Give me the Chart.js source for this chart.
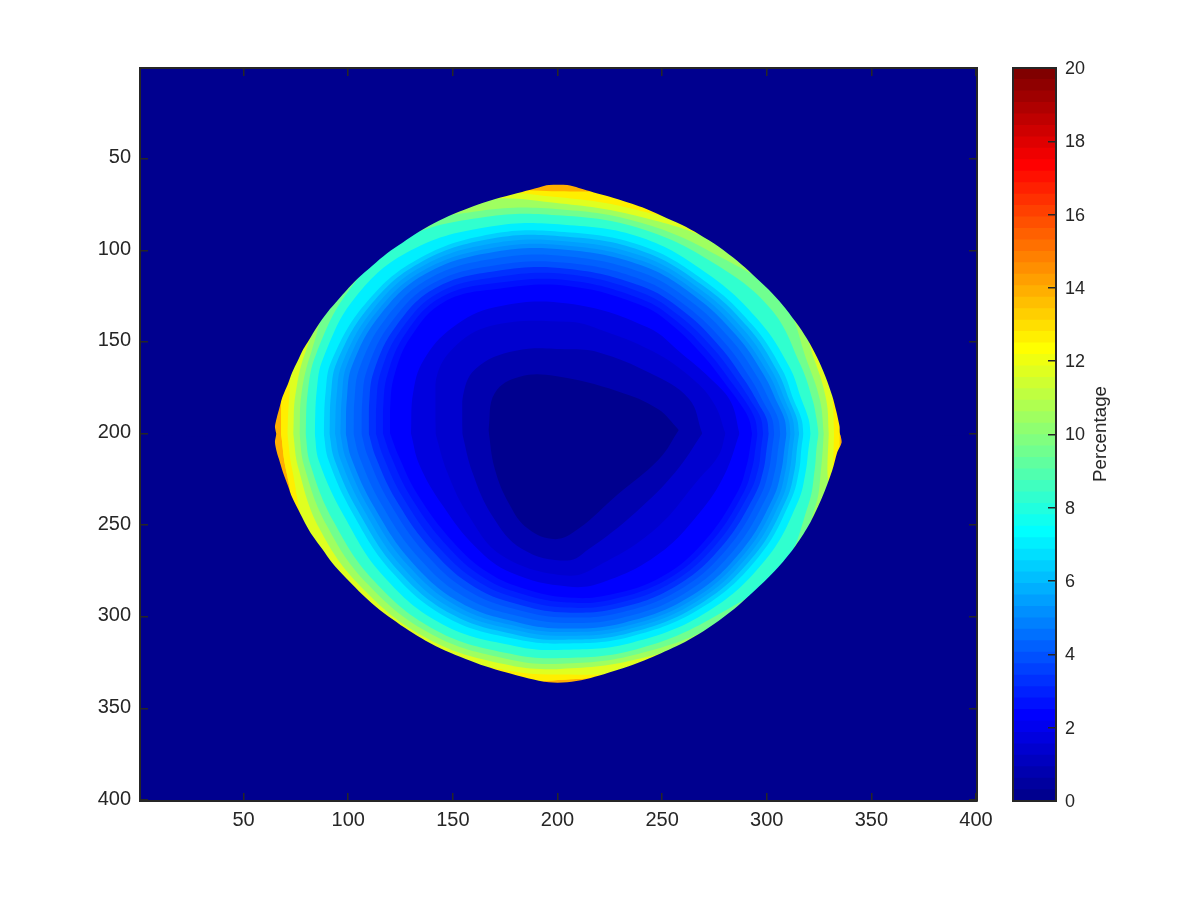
<!DOCTYPE html>
<html>
<head>
<meta charset="utf-8">
<title>Percentage map</title>
<script src="https://cdn.jsdelivr.net/npm/chart.js@4"></script>
<style>
body{margin:0;background:#fff;}
canvas{position:absolute;left:0;top:0;}
#barTitle{position:absolute;left:1100px;top:434px;transform:translate(-50%,-50%) rotate(-90deg);font:18.8px "Liberation Sans";color:#262626;white-space:nowrap;}
</style>
</head>
<body>
<canvas id="map" width="1200" height="900"></canvas>
<canvas id="bar" width="1200" height="900"></canvas>
<div id="barTitle">Percentage</div>
<script>
const xTicks=[50,100,150,200,250,300,350,400]
const yTicks=[50,100,150,200,250,300,350,400]
const barTicks=[0,2,4,6,8,10,12,14,16,18,20]
const barSteps=64
const barMax=20
const outsideValue=0

// edge of the lit region
const outerTop=[[0.5,201],[65,201],[65,196],[65.9,191.2],[66.9,187],[67.8,183],[68.8,179.4],[71.2,173],[73.2,166.7],[75.9,160.3],[78.5,154],[81.2,149],[85.2,141.5],[90,133.9],[95.5,126.6],[99,122.1],[104.3,115.7],[111.5,108.4],[118.6,101.6],[126.1,95.7],[133.8,89.9],[143.3,83.9],[152.9,79],[162.4,74.8],[172.8,71.2],[183.1,68.1],[191.1,65.7],[195.9,64.4],[204.7,64.4],[210.2,66],[217.4,68.4],[224.6,70.6],[234.1,74],[240.5,76.5],[250,81.2],[259.6,86.2],[267.6,91.2],[277.1,98],[285.9,105.7],[293.1,113],[301,121.5],[307.4,129.5],[313.8,139],[319.4,148.5],[324.1,158.5],[328.1,169],[331.3,179.4],[333.2,187.6],[334.8,195.8],[335.8,201],[400.5,201]]
const outerBottom=[[0.5,199],[65,199],[65,204.8],[65.9,210.2],[66.9,213.9],[68.8,221.1],[71.2,228.4],[73.2,234.8],[76.4,242.1],[79.6,249.3],[82.8,255.5],[87.6,263],[92.3,270.5],[98.7,278.6],[105.1,286],[113.1,294.3],[121,301.2],[129,307.5],[137,313],[146.5,318.5],[156.1,323],[165.6,327],[175.2,330.3],[186.3,333.6],[195.9,335.7],[204.7,335.7],[213.4,334],[222.2,331.3],[234.1,327],[243.7,322.8],[258.8,315],[267.6,309.4],[277.1,302.1],[286.7,293.5],[296.3,283.5],[305.8,272.5],[313.8,261.2],[320.9,248.4],[326.5,234.8],[331.3,220.2],[333.7,210.2],[335.8,204.8],[335.8,199],[400.5,199]]

// value painted inside each contour, outermost first
const levelValues=[13.8,12.6,11.6,10.6,9.6,8.4,7.1,6.3,5.85,5.4,5,4.6,4.2,3.8,3.4,3,2.7,2.3,1.8,1.3,0.8,0.1]
const contourTop=[
  [[0.5,0.5],[400.5,0.5]],
  [[67.9,200],[68,181],[75,150],[95,118],[122,90],[158,70],[200.5,67.8],[240,72],[280,94],[310,124],[329,160],[335,182],[334.8,200]],
  [[70.9,200],[71.9,179.3],[75,150],[95,118],[122,90],[158,70],[200.9,71.1],[240,78.6],[280,94],[310,124],[329,160],[331.5,182],[332.2,200]],
  [[73.7,200],[74.8,178.6],[80.1,153.8],[95,118],[122,90],[161,73],[201.4,74.4],[240,81.8],[278,97],[310,124],[323.3,161.4],[328.5,182],[329.7,200]],
  [[76.7,200],[77.7,177.8],[82.4,155.3],[95,118],[122,90],[163.7,78.4],[201.8,77.7],[240,85],[275.6,102.3],[307,127],[319.8,162.1],[325.5,182],[327.3,200]],
  [[79.6,200],[80.7,177.1],[84.6,156.8],[100,122.5],[125.5,94.5],[165.4,81.8],[202.3,81],[240,88.2],[274.2,106.6],[302,132],[316.3,162.9],[322,182],[323.8,192],[324.8,200]],
  [[84,200],[85,176],[88,159],[103.5,125.5],[130,100],[168,87],[203,86],[240,93],[272,113],[296,138],[311,164],[316.5,181],[320,192],[321,200]],
  [[88.3,200],[89.2,177.3],[92.1,160.1],[108,129.4],[132.8,105.1],[168.5,91.1],[203.2,90],[240,97.4],[270,116.4],[292.9,140.4],[307.4,165.2],[313,182],[316.6,192],[317.6,200]],
  [[91,200],[91.8,178.2],[94.6,160.9],[109.9,130.9],[133.9,107],[168.8,93.6],[203.3,92.5],[240,100.2],[268.7,118.5],[291,141.9],[305.1,166],[311,182.2],[314.5,192],[315.5,200]],
  [[93.7,200],[94.5,179],[97.2,161.6],[111.8,132.4],[135,109],[169.1,96.2],[203.5,95],[240,103],[267.4,120.6],[289,143.4],[302.9,166.7],[309,182.5],[312.4,192],[313.4,200]],
  [[96.2,200],[97,179.8],[99.5,162.2],[113.5,133.8],[136.1,110.9],[169.4,98.6],[203.6,97.3],[240,105.6],[266.2,122.5],[287.1,144.8],[300.8,167.4],[307,182.8],[310.4,192],[311.4,200]],
  [[98.8,200],[99.4,180.5],[101.9,162.9],[115.3,135.2],[137.2,112.7],[169.6,100.9],[203.8,99.7],[240,108.2],[265,124.5],[285.3,146.2],[298.7,168.1],[305,183],[308.5,192],[309.5,200]],
  [[102.5,200],[103,181.6],[105.5,163.9],[117.9,137.3],[138.7,115.4],[170,104.5],[204,103.2],[240,112],[263.2,127.4],[282.6,148.3],[295.5,169.1],[302,183.5],[305.5,192],[306.5,200]],
  [[106.3,200],[106.7,182.8],[109.1,164.9],[120.5,139.4],[140.3,118.1],[170.5,108.1],[204.2,106.8],[240,115.9],[261.5,130.4],[279.9,150.4],[292.4,170.2],[299,184],[302.6,192],[303.6,200]],
  [[109.8,200],[110,183.8],[112.3,165.8],[122.9,141.3],[141.7,120.6],[170.8,111.3],[204.4,110],[240,119.5],[259.9,133],[277.4,152.3],[289.5,171.1],[296.5,184.5],[300,192],[301,200]],
  [[113.2,200],[113.4,184.9],[115.5,166.7],[125.3,143.2],[143.2,123.1],[171.2,114.5],[204.6,113.1],[240,123],[258.2,135.7],[274.9,154.2],[286.7,172.1],[294,185],[297.3,192],[298.3,200]],
  [[116.6,200],[116.7,186],[118.8,167.6],[127.6,145.1],[144.6,125.5],[171.6,117.7],[204.8,116.3],[240,126.5],[256.6,138.3],[272.4,156],[283.8,173],[291,184.5],[294.4,192],[295.6,200]],
  [[120,200],[120,187],[122,168.5],[130,147],[146,128],[172,121],[205,119.5],[240,130],[255,141],[270,158],[281,174],[287.5,184],[291.5,192],[293,200]],
  [[130,200],[131,178],[136,160],[150,142],[170,131],[205,129],[243,142],[260,157],[275,172],[283,183],[287,200]],
  [[141.7,200],[141.7,172],[149.7,154],[168.8,141],[205.4,139],[219.8,143],[245.3,155],[264.4,170],[275,184],[280.3,200]],
  [[154.5,200],[154.6,181],[160.8,164.8],[180,154.8],[205.4,154],[219.8,155.7],[243.7,166.7],[262.8,181],[269.2,200]],
  [[167,198],[170,178],[182,169],[199,168.6],[229,177],[248,186.6],[258,198]]
]
const contourBottom=[
  [[0.5,400.5],[400.5,400.5]],
  [[67.9,200],[70.4,220.5],[79,256],[101,288],[133,317],[170,334],[200.2,334.5],[242,328],[281,306],[310,275],[329,241],[335,219],[334.8,200]],
  [[70.9,200],[73.2,219.5],[81,255.5],[101,288],[133,317],[172.8,328.6],[200.8,331.5],[242,328],[281,306],[310,275],[329,241],[331.5,219],[332.2,200]],
  [[73.7,200],[76.1,218.5],[86.3,252],[106.5,284.1],[138,311.9],[174.4,325.8],[201.3,328.4],[239.5,322.8],[281,306],[310,275],[329,241],[329,219],[329.7,200]],
  [[76.7,200],[78.9,217.5],[89.7,250],[109.5,282.4],[140,309.6],[176,323],[201.7,325.6],[238.5,320.3],[278,303],[310,275],[323.3,239.5],[326,219],[327.3,200]],
  [[79.6,200],[81.8,216.5],[93,248],[112.5,280.6],[142,307.4],[177.6,320.2],[202.3,322.5],[237.5,317.8],[275,300],[307,273],[320,238.5],[323,219],[323.8,208],[324.8,200]],
  [[84,200],[86,215],[98,245],[117,278],[145,304],[180,316],[203,318],[236,314],[272,297],[300,268],[315,237],[318.6,221],[320,208],[321,200]],
  [[88.3,200],[90.6,214.6],[102.2,243.6],[121,275.7],[147.6,300.6],[180.6,312.3],[203.2,314.6],[234.7,310.9],[269.4,294.7],[296.4,266.9],[311.5,236.4],[315.5,220],[316.6,208],[317.6,200]],
  [[91,200],[93.5,214.4],[104.9,242.7],[123.5,274.3],[149.3,298.5],[181,310],[203.3,312.5],[233.9,309],[267.8,293.3],[294.2,266.3],[309.4,236],[313.3,220],[314.5,208],[315.5,200]],
  [[93.7,200],[96.3,214.2],[107.5,241.8],[125.9,272.9],[150.9,296.4],[181.4,307.6],[203.5,310.3],[233,307],[266.1,291.9],[291.9,265.6],[307.2,235.7],[311,220],[312.4,208],[313.4,200]],
  [[96.2,200],[99,214],[110,241],[128.2,271.5],[152.5,294.5],[181.8,305.5],[203.6,308.3],[232.3,305.2],[264.6,290.6],[289.8,265],[305.2,235.4],[309,220],[310.4,208],[311.4,200]],
  [[98.8,200],[101.6,213.8],[112.4,240.1],[130.5,270.2],[154,292.5],[182.1,303.3],[203.8,306.3],[231.5,303.3],[263,289.2],[287.7,264.3],[303.1,235],[307,220],[308.5,208],[309.5,200]],
  [[102.5,200],[105.6,213.5],[116,238.9],[134,268.2],[156.3,289.6],[182.6,300],[204,303.3],[230.4,300.6],[260.7,287.2],[284.5,263.4],[300,234.5],[304,220],[305.5,208],[306.5,200]],
  [[106.3,200],[109.6,213.1],[119.7,237.6],[137.5,266.2],[158.6,286.6],[183.1,296.8],[204.2,300.3],[229.2,297.9],[258.4,285.2],[281.4,262.4],[297,233.9],[301,220],[302.6,208],[303.6,200]],
  [[109.8,200],[113.2,212.9],[123,236.5],[140.6,264.4],[160.7,284],[183.6,293.9],[204.4,297.6],[228.2,295.5],[256.3,283.4],[278.5,261.6],[294.3,233.5],[298.5,219.5],[300,208],[301,200]],
  [[113.2,200],[116.8,212.6],[126.4,235.3],[143.7,262.6],[162.8,281.3],[184,290.9],[204.6,294.9],[227.1,293],[254.2,281.6],[275.7,260.7],[291.5,233],[296,219],[297.3,208],[298.3,200]],
  [[116.6,200],[120.4,212.3],[129.7,234.2],[146.9,260.8],[164.9,278.7],[184.5,288],[204.8,292.2],[226,290.5],[252.1,279.8],[272.9,259.9],[288.8,232.5],[293.2,218],[294.6,208],[295.6,200]],
  [[120,200],[124,212],[133,233],[150,259],[167,276],[185,285],[205,289.5],[225,288],[250,278],[270,259],[286,232],[290.5,217],[292,208],[293,200]],
  [[130,200],[134,217],[145,239],[161,262],[178,276],[205,283.5],[222,281],[248,266],[268,243],[280,222],[287,200]],
  [[141.7,200],[147.3,221],[157.7,245],[173.6,266.6],[204.6,277.5],[219.8,272],[246.9,252],[267.6,224.8],[277,212],[280.3,200]],
  [[154.5,200],[159.3,221],[168.8,244.8],[183.1,263],[204.6,269.3],[215,263],[237.3,243],[256.4,221],[269.2,200]],
  [[167,198],[170,219],[177,238.5],[186,252],[199,257.6],[210,252],[229,233],[248.5,214],[258,198]]
]

const ink="#262626"
Chart.defaults.font.family='"Liberation Sans"'
Chart.defaults.color=ink
Chart.defaults.animation=false

// matlab jet, 64 steps
function jet(v){
  const i=Math.min(barSteps-1,Math.floor(v/barMax*barSteps))
  const t=(i+1)/barSteps
  const c=k=>Math.round(255*Math.max(0,Math.min(1,Math.min(4*t-k,-4*t+k+3))))
  return `rgb(${c(1.5)},${c(0.5)},${c(-0.5)})`
}

function curve(points,fill,color,tension){
  return{
    data:points.map(p=>({x:p[0],y:p[1]})),
    showLine:true,
    borderWidth:0,
    pointRadius:0,
    tension,
    fill,
    backgroundColor:color
  }
}

// first dataset is painted last, so the mask goes first and the inner contours follow
const mapSets=[]
mapSets.push(curve(outerTop,{target:{value:0.5}},jet(outsideValue),0.3))
mapSets.push(curve(outerBottom,{target:{value:400.5}},jet(outsideValue),0.3))
for(let i=levelValues.length-1;i>=0;i--){
  mapSets.push(curve(contourTop[i],"+1",jet(levelValues[i]),0.4))
  mapSets.push(curve(contourBottom[i],false,"transparent",0.4))
}

function frameGrid(){
  return{drawOnChartArea:false,color:ink,lineWidth:1.5,tickLength:-8,z:1}
}
const frameBorder={color:ink,width:2,z:1}

new Chart(document.getElementById("map"),{
  type:"scatter",
  data:{datasets:mapSets},
  options:{
    responsive:false,
    plugins:{legend:{display:false},tooltip:{enabled:false}},
    layout:{padding:0},
    scales:{
      x:{
        type:"linear",position:"bottom",min:0.5,max:400.5,
        afterBuildTicks(s){s.ticks=xTicks.map(v=>({value:v}))},
        afterFit(s){s.height=99},
        grid:frameGrid(),border:frameBorder,
        ticks:{font:{size:20},padding:15,maxRotation:0}
      },
      y:{
        type:"linear",position:"left",reverse:true,min:0.5,max:400.5,
        afterBuildTicks(s){s.ticks=yTicks.map(v=>({value:v}))},
        afterFit(s){s.width=140},
        grid:frameGrid(),border:frameBorder,
        ticks:{font:{size:20},padding:17,labelOffset:-1}
      },
      xTop:{
        type:"linear",position:"top",min:0.5,max:400.5,
        afterBuildTicks(s){s.ticks=xTicks.map(v=>({value:v}))},
        afterFit(s){s.height=68},
        grid:frameGrid(),border:frameBorder,
        ticks:{display:false}
      },
      yRight:{
        type:"linear",position:"right",reverse:true,min:0.5,max:400.5,
        afterBuildTicks(s){s.ticks=yTicks.map(v=>({value:v}))},
        afterFit(s){s.width=223},
        grid:frameGrid(),border:frameBorder,
        ticks:{display:false}
      }
    }
  }
})

// colorbar, one bar per step from zero up, shortest on top
const barSets=[]
for(let i=0;i<barSteps;i++){
  barSets.push({
    data:[(i+1)*barMax/barSteps],
    backgroundColor:jet((i+0.5)*barMax/barSteps),
    barPercentage:1,
    categoryPercentage:1,
    grouped:false,
    xAxisID:"x",
    yAxisID:"y"
  })
}

new Chart(document.getElementById("bar"),{
  type:"bar",
  data:{labels:[""],datasets:barSets},
  options:{
    responsive:false,
    plugins:{legend:{display:false},tooltip:{enabled:false}},
    layout:{padding:0},
    scales:{
      x:{
        type:"category",position:"bottom",
        afterFit(s){s.height=99},
        grid:{display:false},border:frameBorder,
        ticks:{display:false}
      },
      xTop:{
        type:"linear",position:"top",min:0,max:1,
        afterFit(s){s.height=68},
        grid:{display:false},border:frameBorder,
        ticks:{display:false}
      },
      yLeft:{
        type:"linear",position:"left",min:0,max:barMax,
        afterFit(s){s.width=1013},
        grid:{display:false},border:frameBorder,
        ticks:{display:false}
      },
      y:{
        type:"linear",position:"right",min:0,max:barMax,
        afterBuildTicks(s){s.ticks=barTicks.map(v=>({value:v}))},
        afterFit(s){s.width=144},
        grid:frameGrid(),border:frameBorder,
        ticks:{font:{size:18},padding:17,labelOffset:1}
      }
    }
  }
})
</script>
</body>
</html>
